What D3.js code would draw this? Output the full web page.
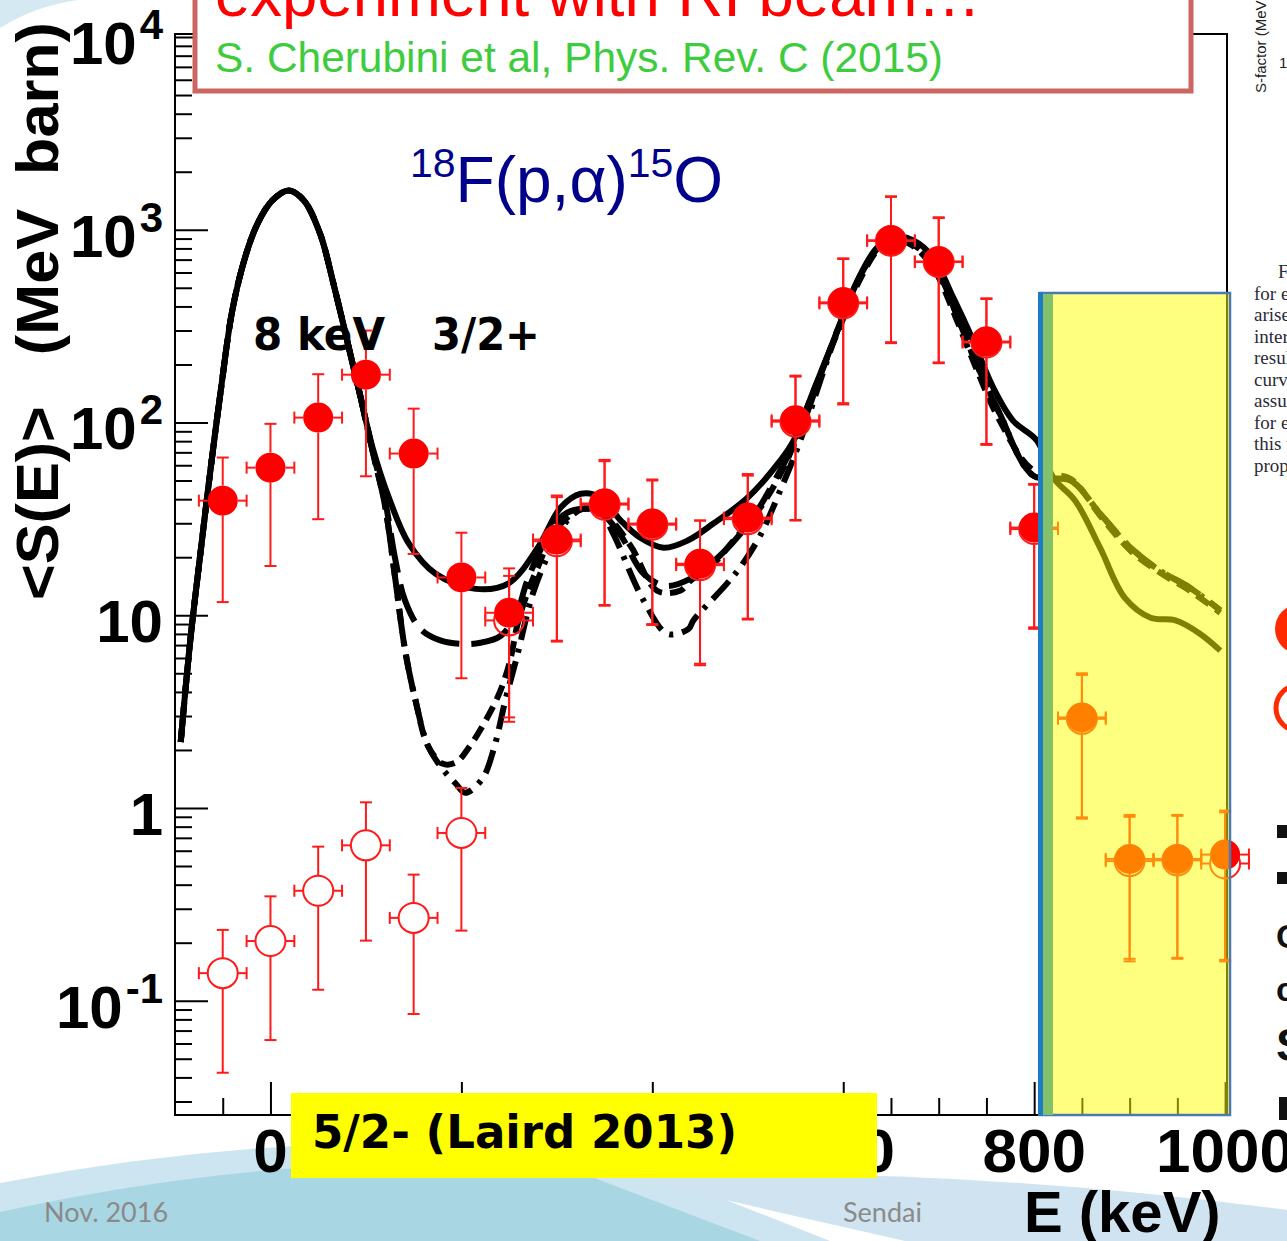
<!DOCTYPE html>
<html>
<head>
<meta charset="utf-8">
<script src="https://cdn.jsdelivr.net/npm/d3@7"></script>
<style>
html,body{margin:0;padding:0;background:#fff;}
svg text{white-space:pre;}
</style>
</head>
<body>
<script>
var WIDTH = 1287, HEIGHT = 1241;
var PLOT = {left:175, right:1227, top:34, bottom:1115};

// measured points (keV) and <S(E)> values, filled and open symbols
var energies  = [-50,0,50,100,150,200,250,300,350,400,450,500,550,600,650,700,750,800,850,900,950,1000];
var sFilled   = [39.3,58.3,106,177,69,15.7,10.3,24.7,38,29.9,18.5,32.1,102.6,420,882,685,263,28.5,2.95,0.544,0.544,0.573];
var sFilledLo = [11.7,18.0,31.5,52.6,20.8,4.71,2.95,7.38,11.3,9.0,5.6,9.6,31.2,126,261,205,77.4,8.65,0.894,0.165,0.167,0.163];
var sFilledHi = [65.8,98.4,178,300,118,26.8,17.5,41.8,64,50.6,31,54,175,711,1492,1161,441,48,5.0,0.92,0.92,0.97];
var sOpen     = [0.139,0.204,0.372,0.640,0.269,0.742,9.4,24.2,37.5,29.5,18.2,31.5,101,415,875,680,260,28,2.9,0.53,0.535,0.515];
var sOpenLo   = [0.0423,0.0625,0.114,0.205,0.0853,0.231,2.8,7.3,11.2,8.9,5.5,9.5,31,124,258,203,76.5,8.5,0.88,0.16,0.165,0.16];
var sOpenHi   = [0.233,0.348,0.63,1.07,0.451,1.27,16,41,63,50,31,53,173,705,1480,1150,437,47.5,4.9,0.9,0.91,0.95];
var eHalfWidth = 25;

// R-matrix curves [E keV, S]
var curveRise = [[-94,2.2],[-84,7.4],[-73,21.7],[-63,56],[-52,147],[-40,381],[-26,735],[-13,1090],[2,1420],[19,1600],[35,1420],[52,953],[66,525],[87,193],[94,138]];
var tailSolid = [[107,74],[124,40.8],[145,23.5],[173,16.4],[215,13.7],[249,14.6],[280,22.4],[304,36.2],[325,42.7],[346,40.8],[367,31],[387,25.3],[412,22.4],[437,24.4],[464,29.9],[500,40.8],[534,63.4],[548,80.5],[569,147],[594,300],[615,546],[636,811],[657,914],[673,883],[694,720],[715,447],[736,267],[757,152],[778,102],[803,80.5],[820,51.8],[843,39.3],[869,22.4],[895,12.3],[922,9.7],[948,9.4],[974,8.0],[995,6.55]];
var tailLongDash = [[107,71],[120,39.4],[131,19.2],[141,11.9],[157,8.5],[178,7.4],[199,7.1],[220,7.2],[241,7.8],[257,9.95],[269,15.1],[288,24.4],[306,32.9],[327,35.7],[346,34.1],[367,25.9],[391,16.4],[414,14.2],[440,15.5],[471,20.4],[503,31],[534,56.4],[555,90.8],[576,175],[597,330],[618,579],[639,828],[657,900],[675,828],[696,653],[717,381],[738,210],[764,111],[799,53],[838,50],[869,33.7],[901,22.4],[932,17],[963,13.9],[995,10.6]];
var tailShortDash = [[107,71],[120,37],[131,15.1],[141,6.6],[152,3.6],[165,2.1],[180,1.70],[194,1.72],[209,2.10],[227,2.94],[241,4.07],[251,5.82],[259,9.06],[269,13],[280,17.7],[298,27.5],[327,35.7],[351,32.9],[377,23],[405,13.4],[429,13.4],[440,15.1],[464,18.5],[485,24.4],[516,37.9],[541,63.4],[565,130],[597,318],[618,558],[639,811],[658,883],[675,811],[696,614],[717,359],[738,198],[764,102],[799,56.4],[838,51],[869,32.9],[901,21.6],[932,16.6],[963,13.4],[995,10.3]];
var tailDashDot = [[107,71],[120,37],[131,15.1],[141,6.6],[152,3.6],[165,2.1],[180,1.6],[194,1.34],[204,1.20],[222,1.42],[234,2.03],[246,3.61],[258,6.04],[275,13],[293,21.6],[309,30.2],[327,35.7],[346,34.1],[359,26.5],[391,11.9],[416,8.0],[438,8.5],[443,9.4],[476,14.2],[492,17.7],[513,25.9],[534,44.4],[555,80.5],[576,165],[597,330],[618,579],[639,828],[657,900],[675,828],[696,653],[717,381],[738,210],[764,111],[799,53],[838,50],[869,33.7],[901,22.4],[932,17],[963,13.9],[995,10.6]];

// axes
var xMajorTicks = [0,200,400,600,800,1000];
var xTickLabels = ["0","200","400","600","800","1000"];
var yMajorTicks = [0.1,1,10,100,1000,10000];
var yTickBase   = ["10","1","10","10","10","10"];
var yTickExp    = ["-1","","","2","3","4"];

var x = d3.scaleLinear().domain([-100,1002]).range([PLOT.left,PLOT.right]);
var y = d3.scaleLog().domain([0.02553,10366]).range([PLOT.bottom,PLOT.top]);
var R = 15; // marker radius
var LABELBOX = {x:291, y:1093, w:586, h:85};

var svg = d3.select("body").append("svg")
	.attr("width",WIDTH).attr("height",HEIGHT)
	.style("display","block").style("background","#fff");

// slide template swooshes
svg.append("path").attr("d","M0,0 L78,0 Q35,6 0,28 Z").attr("fill","#d4e9f2");
svg.append("path").attr("d","M0,1183 Q300,1125 600,1150 L830,1241 L0,1241 Z").attr("fill","#cde5f0");
svg.append("path").attr("d","M0,1212 Q280,1150 560,1165 L760,1241 L0,1241 Z").attr("fill","#a9d6e3");
svg.append("path").attr("d","M620,1176 Q950,1165 1287,1210 L1287,1241 L905,1241 Z").attr("fill","#cfe4f0");

svg.append("text").attr("x",44).attr("y",1222).text("Nov. 2016")
	.attr("font-family","Lato, 'Open Sans', sans-serif").attr("font-size",27).attr("fill","#8a8a8a");
svg.append("text").attr("x",843).attr("y",1222).text("Sendai")
	.attr("font-family","Lato, 'Open Sans', sans-serif").attr("font-size",27).attr("fill","#8a8a8a");

// frame
svg.append("rect").attr("x",PLOT.left).attr("y",PLOT.top)
	.attr("width",PLOT.right-PLOT.left).attr("height",PLOT.bottom-PLOT.top)
	.attr("fill","none").attr("stroke","#000").attr("stroke-width",2);

// ticks (pointing inward)
var yMinor = [];
for (var k=-2;k<=4;k++) for (var m=2;m<=9;m++){
	var v = m*Math.pow(10,k);
	if (v>y.domain()[0] && v<y.domain()[1]) yMinor.push(v);
}
var xMinor = d3.range(-50,1001,50).filter(function(d){return d%200!==0;});

function tickAxis(axis, tr){
	var g = svg.append("g").attr("transform",tr).call(axis);
	g.select(".domain").remove();
	g.selectAll(".tick line").attr("stroke","#000").attr("stroke-width",2);
	g.selectAll(".tick text").remove();
}
tickAxis(d3.axisLeft(y).tickValues(yMinor).tickSize(-17).tickFormat(""), "translate("+PLOT.left+",0)");
tickAxis(d3.axisLeft(y).tickValues(yMajorTicks).tickSize(-33).tickFormat(""), "translate("+PLOT.left+",0)");
tickAxis(d3.axisBottom(x).tickValues(xMinor).tickSize(-17).tickFormat(""), "translate(0,"+PLOT.bottom+")");
tickAxis(d3.axisBottom(x).tickValues(xMajorTicks).tickSize(-33).tickFormat(""), "translate(0,"+PLOT.bottom+")");

// tick labels
var yl = svg.append("g").attr("font-family","'Liberation Sans', Arial, sans-serif").attr("font-weight","bold");
yMajorTicks.forEach(function(v,i){
	var t = yl.append("text").attr("x",163).attr("y",y(v)+27).attr("text-anchor","end").attr("font-size",60);
	t.append("tspan").text(yTickBase[i]);
	if (yTickExp[i]) t.append("tspan").attr("font-size",42).attr("dy",-25).attr("dx",3).text(yTickExp[i]);
});
var xl = svg.append("g").attr("font-family","'Liberation Sans', Arial, sans-serif").attr("font-weight","bold");
xMajorTicks.forEach(function(v,i){
	// labels fully hidden behind the "Laird 2013" box are not drawn
	var px = x(v), half = xTickLabels[i].length*17;
	if (px-half > LABELBOX.x && px+half < LABELBOX.x+LABELBOX.w) return;
	xl.append("text").attr("x",px).attr("y",1172).attr("text-anchor","middle").attr("font-size",62).text(xTickLabels[i]);
});

// axis titles
svg.append("text").attr("transform","translate(58,600) rotate(-90)")
	.attr("font-family","'Liberation Sans', Arial, sans-serif").attr("font-weight","bold")
	.attr("font-size",60).attr("textLength",578).attr("lengthAdjust","spacingAndGlyphs")
	.text("<S(E)>   (MeV  barn)");
svg.append("text").attr("x",1024).attr("y",1232)
	.attr("font-family","'Liberation Sans', Arial, sans-serif").attr("font-weight","bold")
	.attr("font-size",58).text("E (keV)");

// curves
svg.append("clipPath").attr("id","plotclip").append("rect")
	.attr("x",PLOT.left).attr("y",PLOT.top).attr("width",PLOT.right-PLOT.left).attr("height",PLOT.bottom-PLOT.top);
var line = d3.line().x(function(d){return x(d[0]);}).y(function(d){return y(d[1]);}).curve(d3.curveCatmullRom);
var curves = [
	{data:curveRise.concat(tailDashDot),  dash:"24,9,4,9"},
	{data:curveRise.concat(tailShortDash),dash:"15,8"},
	{data:curveRise.concat(tailLongDash), dash:"40,12"},
	{data:curveRise.concat(tailSolid),    dash:null}
];
var cg = svg.append("g").attr("clip-path","url(#plotclip)");
cg.selectAll("path.curve").data(curves).enter().append("path")
	.attr("class","curve")
	.attr("d",function(d){return line(d.data);})
	.attr("fill","none").attr("stroke","#000").attr("stroke-width",6)
	.attr("stroke-dasharray",function(d){return d.dash;});

// data points with error bars (bars stop at the marker edge)
function makePts(s,lo,hi){
	return energies.map(function(e,i){return {e:e,s:s[i],lo:lo[i],hi:hi[i]};});
}
function seg(p, x1, y1, x2, y2){
	p.append("line").attr("x1",x1).attr("y1",y1).attr("x2",x2).attr("y2",y2);
}
function drawPoints(data, filled){
	var g = svg.append("g").attr("stroke","#ff1a1a").attr("stroke-width",2);
	g.selectAll("g").data(data).enter().append("g").each(function(d){
		var p = d3.select(this);
		var cx = x(d.e), cy = y(d.s), ylo = y(d.lo), yhi = y(d.hi);
		var xl = x(d.e-eHalfWidth), xr = x(d.e+eHalfWidth);
		if (ylo > cy+R) seg(p, cx, cy+R, cx, ylo);
		if (yhi < cy-R) seg(p, cx, yhi, cx, cy-R);
		seg(p, cx-6, ylo, cx+6, ylo);
		seg(p, cx-6, yhi, cx+6, yhi);
		seg(p, xl, cy, cx-R, cy);
		seg(p, cx+R, cy, xr, cy);
		seg(p, xl, cy-6, xl, cy+6);
		seg(p, xr, cy-6, xr, cy+6);
		p.append("circle").attr("cx",cx).attr("cy",cy).attr("r",R)
			.attr("fill",filled?"#ff0000":"none")
			.attr("stroke",filled?"none":"#ff1a1a");
	});
}
drawPoints(makePts(sOpen,sOpenLo,sOpenHi), false);
drawPoints(makePts(sFilled,sFilledLo,sFilledHi), true);

// highlighted band (semi-transparent yellow overlay)
svg.append("rect").attr("x",1040).attr("y",293).attr("width",190).attr("height",822)
	.attr("fill","#ffff00").attr("fill-opacity",0.5)
	.attr("stroke","#4a7ab4").attr("stroke-width",2.5);
svg.append("rect").attr("x",1038).attr("y",292).attr("width",5).attr("height",824).attr("fill","#1b7cc3");
svg.append("rect").attr("x",1043).attr("y",294).attr("width",10).attr("height",821).attr("fill","#82c06a");

// reaction label
var tt = svg.append("text").attr("x",410).attr("y",202)
	.attr("font-family","'Liberation Sans', Arial, sans-serif").attr("fill","#00008b").attr("font-size",64);
tt.append("tspan").attr("font-size",41).attr("dy",-25).text("18");
tt.append("tspan").attr("dy",25).text("F(p,α)");
tt.append("tspan").attr("font-size",41).attr("dy",-25).text("15");
tt.append("tspan").attr("dy",25).text("O");

// resonance annotations
svg.append("text").attr("x",253).attr("y",350)
	.attr("font-family","'DejaVu Sans', sans-serif").attr("font-weight","bold").attr("font-size",44)
	.attr("textLength",132).attr("lengthAdjust","spacingAndGlyphs").text("8 keV");
svg.append("text").attr("x",432).attr("y",350)
	.attr("font-family","'DejaVu Sans', sans-serif").attr("font-weight","bold").attr("font-size",44)
	.attr("textLength",108).attr("lengthAdjust","spacingAndGlyphs").text("3/2+");
svg.append("rect").attr("x",LABELBOX.x).attr("y",LABELBOX.y).attr("width",LABELBOX.w).attr("height",LABELBOX.h).attr("fill","#ffff00");
svg.append("text").attr("x",312).attr("y",1148)
	.attr("font-family","'DejaVu Sans', sans-serif").attr("font-weight","bold").attr("font-size",46)
	.attr("textLength",425).attr("lengthAdjust","spacingAndGlyphs").text("5/2- (Laird 2013)");

// title box
svg.append("rect").attr("x",195).attr("y",-10).attr("width",996).attr("height",101)
	.attr("fill","#fff").attr("stroke","#cd6660").attr("stroke-width",5);
svg.append("text").attr("x",215).attr("y",16)
	.attr("font-family","'Liberation Sans', Arial, sans-serif").attr("font-size",64).attr("fill","#ff0000")
	.attr("textLength",766).attr("lengthAdjust","spacingAndGlyphs").text("experiment with RI beam…");
svg.append("text").attr("x",215).attr("y",72)
	.attr("font-family","'Liberation Sans', Arial, sans-serif").attr("font-size",42).attr("fill","#3dcc3d")
	.attr("textLength",728).attr("lengthAdjust","spacingAndGlyphs").text("S. Cherubini et al, Phys. Rev. C (2015)");

// fragment of neighbouring figure on the right edge
svg.append("text").attr("transform","translate(1266,93) rotate(-90)")
	.attr("font-family","'Liberation Sans', Arial, sans-serif").attr("font-size",15).attr("fill","#222")
	.text("S-factor (MeV");
svg.append("text").attr("x",1279).attr("y",68).attr("font-family","'Liberation Sans', Arial, sans-serif")
	.attr("font-size",15).attr("fill","#222").text("1");
var para = ["F","for e","arise","inter","resul","curv","assu","for e","this t","prop"];
svg.append("g").attr("font-family","'Liberation Serif', serif").attr("font-size",19).attr("fill","#2a2a38")
	.selectAll("text").data(para).enter().append("text")
	.attr("x",function(d,i){return i===0?1278:1254;})
	.attr("y",function(d,i){return 278+i*21.5;})
	.text(function(d){return d;});
svg.append("circle").attr("cx",1300).attr("cy",629).attr("r",25).attr("fill","#ff2a00");
svg.append("circle").attr("cx",1299).attr("cy",708).attr("r",23).attr("fill","none").attr("stroke","#ff2a00").attr("stroke-width",5);
svg.append("rect").attr("x",1277).attr("y",825).attr("width",12).attr("height",13).attr("fill","#111");
svg.append("rect").attr("x",1277).attr("y",872).attr("width",12).attr("height",12).attr("fill","#111");
var frag = svg.append("g").attr("font-family","'Liberation Sans', Arial, sans-serif").attr("font-weight","bold").attr("fill","#111");
frag.append("text").attr("x",1276).attr("y",948).attr("font-size",34).text("C");
frag.append("text").attr("x",1276).attr("y",1001).attr("font-size",34).text("c");
frag.append("text").attr("x",1276).attr("y",1061).attr("font-size",46).text("S");
svg.append("rect").attr("x",1279).attr("y",1097).attr("width",8).attr("height",23).attr("fill","#111");
</script>
</body>
</html>
